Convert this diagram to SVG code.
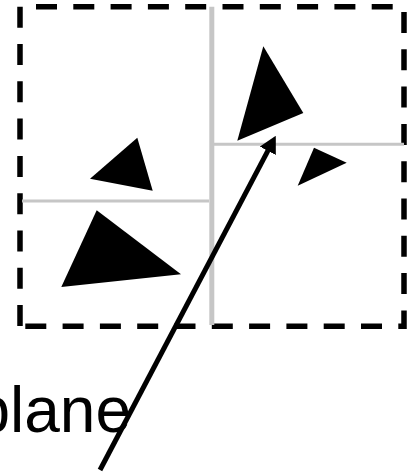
<svg xmlns="http://www.w3.org/2000/svg" width="412" height="474" viewBox="0 0 412 474">
<defs>
<style>
.frame{stroke:#000;stroke-width:5.5;stroke-dasharray:21 16.3;fill:none}
.grid{stroke:#c6c6c6;fill:none}
.tri{fill:#000;stroke:none}
.label{font-family:"Liberation Sans",Arial,sans-serif;font-size:64px;fill:#000}
</style>
<marker id="ah" viewBox="0 0 17 18" refX="0.5" refY="9" markerWidth="17" markerHeight="18" markerUnits="userSpaceOnUse" orient="auto">
<path d="M0,0 L17,9 L0,18 Z" fill="#000"/>
</marker>
</defs>
<rect width="412" height="474" fill="#fff"/>
<g id="frame">
<line class="frame" x1="36" y1="6.7" x2="404" y2="6.7"/>
<line class="frame" x1="404" y1="12" x2="404" y2="329"/>
<line class="frame" x1="25.3" y1="326.3" x2="406" y2="326.3"/>
<line class="frame" x1="20" y1="6.7" x2="20" y2="326.3"/>
</g>
<g id="partitions">
<line class="grid" x1="211.8" y1="6.7" x2="211.8" y2="325" stroke-width="5"/>
<line class="grid" x1="22" y1="201" x2="209" y2="201" stroke-width="3"/>
<line class="grid" x1="214" y1="144.3" x2="404" y2="144.3" stroke-width="3"/>
</g>
<g id="triangles">
<polygon class="tri" points="263.3,46.3 303.3,113 237.3,140.8"/>
<polygon class="tri" points="314,147.8 346.7,162.7 297.7,185.7"/>
<polygon class="tri" points="137.3,137.7 152.7,190.7 90,178.7"/>
<polygon class="tri" points="96.7,210.3 181,274.3 61.3,287"/>
</g>
<g id="label">
<text class="label" x="131" y="432" text-anchor="end">plane</text>
</g>
<g id="connectors">
<line x1="100" y1="470" x2="268.1" y2="150.4" stroke="#000" stroke-width="5" marker-end="url(#ah)"/>
</g>
</svg>
